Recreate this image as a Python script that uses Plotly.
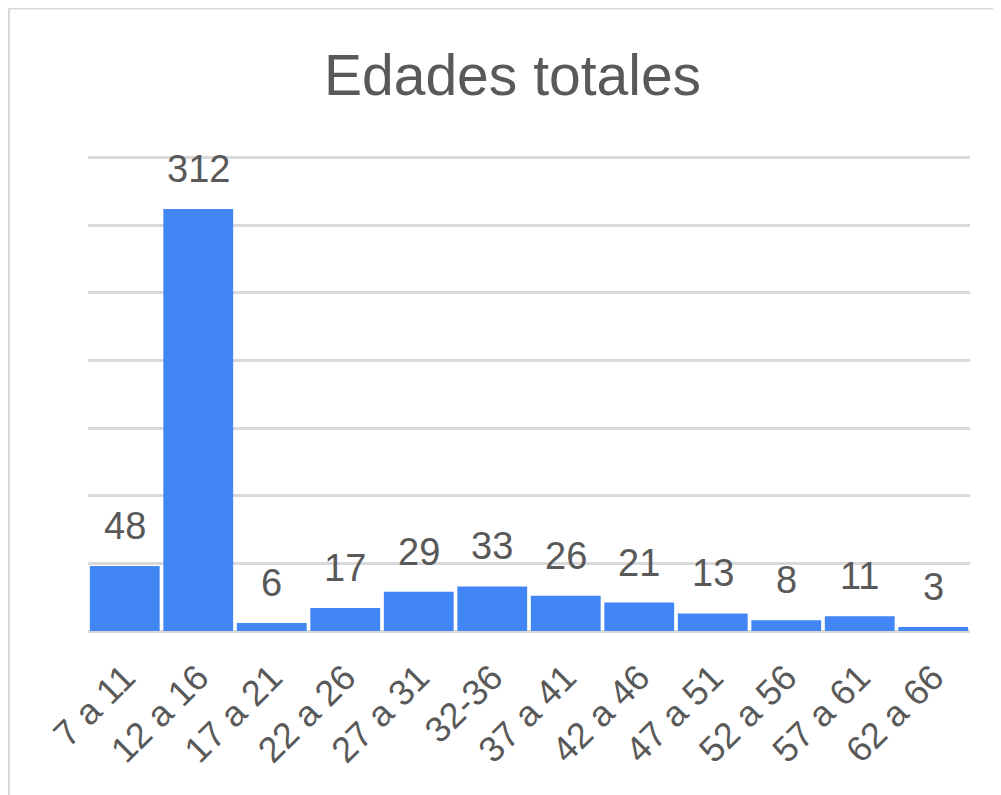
import plotly.graph_objects as go

categories = ["7 a 11", "12 a 16", "17 a 21", "22 a 26", "27 a 31", "32-36",
              "37 a 41", "42 a 46", "47 a 51", "52 a 56", "57 a 61", "62 a 66"]
values = [48, 312, 6, 17, 29, 33, 26, 21, 13, 8, 11, 3]
title_text = "Edades totales"

W, H = 1001, 795
OFF = 8  # page body margin offset
ymax = 352
unit = (631 - 158) / 350.0  # px per unit in the reference
base_px = 631 - OFF
top_px = base_px - ymax * unit
L = 88 - OFF
R = W - (970 - OFF)
T = top_px
B = H - base_px
pw, ph = W - L - R, H - T - B


def px_x(px):
    return (px - OFF - L) / pw


def px_y(py):
    return (base_px - (py - OFF)) / ph


FONT = "Arial, Liberation Sans, sans-serif"
TXT = "#595959"
GRID = "#d9d9d9"

fig = go.Figure()
fig.add_trace(go.Bar(x=categories, y=values, marker=dict(color="#4285F4", line=dict(width=0)),
                     hoverinfo="x+y"))

for c, v in zip(categories, values):
    fig.add_annotation(x=c, y=v, text=str(v), showarrow=False, yanchor="bottom",
                       yshift=17, font=dict(family=FONT, size=38, color=TXT))

fig.add_annotation(xref="paper", yref="paper", x=px_x(512), y=px_y(75),
                   text=title_text, showarrow=False, xanchor="center", yanchor="middle",
                   font=dict(family=FONT, size=57, color=TXT))

# outer frame (left and top edges)
fig.add_shape(type="line", xref="paper", yref="paper", x0=px_x(9), x1=px_x(9),
              y0=px_y(9), y1=px_y(H + 20), line=dict(color=GRID, width=2))
fig.add_shape(type="line", xref="paper", yref="paper", x0=px_x(9), x1=px_x(W + 20),
              y0=px_y(9), y1=px_y(9), line=dict(color=GRID, width=2))

fig.update_layout(
    width=W, height=H, margin=dict(l=L, r=R, t=T, b=B, autoexpand=False),
    paper_bgcolor="white", plot_bgcolor="white", showlegend=False,
    bargap=0.05,
    font=dict(family=FONT, color=TXT),
)
fig.update_xaxes(tickangle=-45, tickfont=dict(family=FONT, size=36, color=TXT),
                 ticks="outside", ticklen=10, tickcolor="rgba(0,0,0,0)",
                 showgrid=False, showline=False)
fig.update_yaxes(range=[0, ymax], dtick=50, showticklabels=False, showgrid=True,
                 gridcolor=GRID, gridwidth=2.5, zeroline=True, zerolinecolor=GRID,
                 zerolinewidth=3)

fig.write_html("out.html")
